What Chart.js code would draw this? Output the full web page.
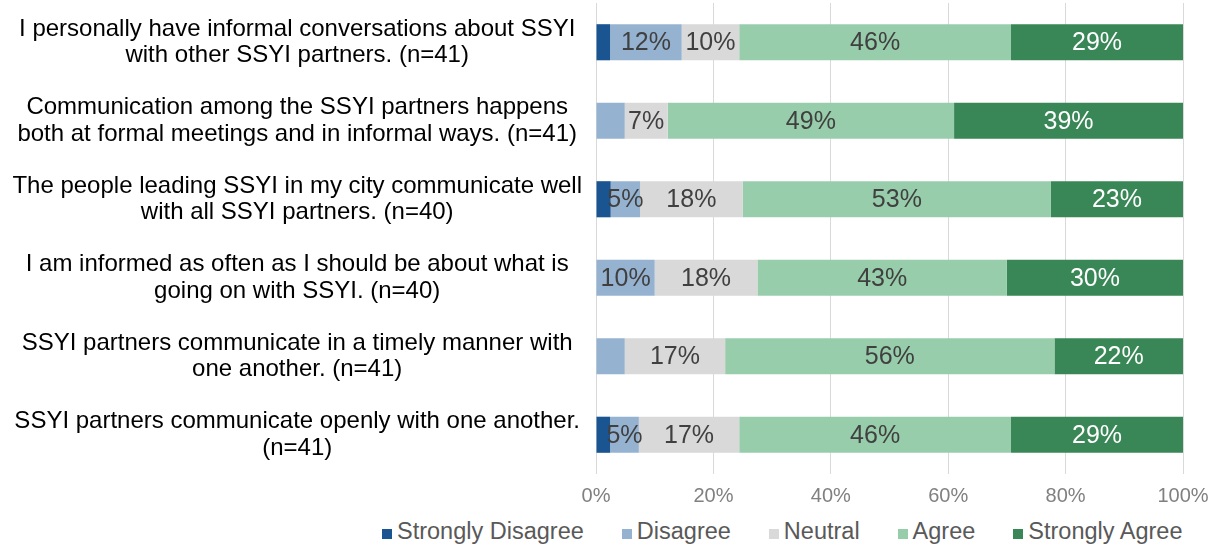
<!DOCTYPE html>
<html>
<head>
<meta charset="utf-8">
<title>SSYI communication</title>
<script src="https://cdn.jsdelivr.net/npm/chart.js@4.4.1/dist/chart.umd.min.js"></script>
<style>
    body { margin: 0; background: #fff; font-family: "Liberation Sans", Arial, sans-serif; }
    #wrap { width: 1219px; height: 518px; }
    #legend { display: flex; gap: 38px; margin-left: 382px; height: 26px; }
    #legend .item { font-size: 23.5px; line-height: 26px; color: #595959; white-space: nowrap; }
    #legend .box { display: inline-block; width: 10px; height: 10px; margin-right: 5px; vertical-align: baseline; }
</style>
</head>
<body>
<div id="wrap"><canvas id="likertChart"></canvas></div>
<div id="legend"></div>
<script>
// Statements (each one split in two lines, like the original)
const statements = [
    ['I personally have informal conversations about SSYI', 'with other SSYI partners. (n=41)'],
    ['Communication among the SSYI partners happens', 'both at formal meetings and in informal ways. (n=41)'],
    ['The people leading SSYI in my city communicate well', 'with all SSYI partners. (n=40)'],
    ['I am informed as often as I should be about what is', 'going on with SSYI. (n=40)'],
    ['SSYI partners communicate in a timely manner with', 'one another. (n=41)'],
    ['SSYI partners communicate openly with one another.', '(n=41)']
];

const seriesNames = ['Strongly Disagree', 'Disagree', 'Neutral', 'Agree', 'Strongly Agree'];

// percent of respondents per statement
const stronglyDisagree = [2.4, 0, 2.5, 0, 0, 2.4];
const disagree = [12.2, 4.9, 5.0, 10.0, 4.9, 4.9];
const neutral = [9.8, 7.3, 17.5, 17.5, 17.1, 17.1];
const agree = [46.3, 48.8, 52.5, 42.5, 56.1, 46.3];
const stronglyAgree = [29.3, 39.0, 22.5, 30.0, 21.9, 29.3];

const xTicks = [0, 20, 40, 60, 80, 100];

// labels that were removed in the original ("series-row")
const hiddenLabels = ['1-1', '1-4'];

document.addEventListener('DOMContentLoaded', () => {
    const colors = ['#1B5591', '#95B3D0', '#D9D9D9', '#98CDAC', '#398756'];
    const labelColors = ['#404040', '#404040', '#404040', '#404040', '#FFFFFF'];
    const values = [stronglyDisagree, disagree, neutral, agree, stronglyAgree];
    const fontFamily = '"Liberation Sans", Arial, sans-serif';

    // Draw the percentages inside the bars
    const barLabels = {
        id: 'barLabels',
        afterDatasetsDraw(chart) {
            const ctx = chart.ctx;
            ctx.save();
            ctx.font = '25px ' + fontFamily;
            ctx.textAlign = 'center';
            ctx.textBaseline = 'middle';
            chart.data.datasets.forEach((ds, i) => {
                const meta = chart.getDatasetMeta(i);
                meta.data.forEach((bar, j) => {
                    const v = ds.data[j];
                    if (v < 3 || hiddenLabels.includes(i + '-' + j)) return;
                    const c = bar.getCenterPoint();
                    ctx.fillStyle = labelColors[i];
                    ctx.fillText(Math.round(v) + '%', c.x, c.y + 1);
                });
            });
            ctx.restore();
        }
    };

    const ctx = document.getElementById('likertChart').getContext('2d');
    const chart = new Chart(ctx, {
        type: 'bar',
        data: {
            labels: statements,
            datasets: seriesNames.map((name, i) => ({
                label: name,
                data: values[i],
                backgroundColor: colors[i],
                borderWidth: 0,
                barPercentage: 0.46,
                categoryPercentage: 1
            }))
        },
        options: {
            indexAxis: 'y',
            responsive: true,
            maintainAspectRatio: false,
            animation: false,
            layout: {
                padding: { top: 3, right: 36, bottom: 0, left: 0 }
            },
            scales: {
                x: {
                    stacked: true,
                    min: 0,
                    max: 100,
                    afterBuildTicks: axis => { axis.ticks = xTicks.map(v => ({ value: v })); },
                    ticks: {
                        callback: v => v + '%',
                        color: '#808080',
                        font: { family: fontFamily, size: 20 },
                        padding: 10
                    },
                    grid: { color: '#D9D9D9', lineWidth: 1, drawTicks: false },
                    border: { display: false }
                },
                y: {
                    stacked: true,
                    // fixed axis width, and no extra room above/below for the two-line labels
                    afterFit: axis => {
                        axis.width = 596;
                        axis.paddingTop = 0;
                        axis.paddingBottom = 0;
                    },
                    ticks: {
                        color: '#000000',
                        crossAlign: 'center',
                        padding: 14,
                        font: { family: fontFamily, size: 24, lineHeight: 1.1 }
                    },
                    grid: { display: false, drawTicks: false },
                    border: { display: false }
                }
            },
            plugins: {
                legend: { display: false },
                tooltip: { enabled: false }
            }
        },
        plugins: [barLabels]
    });

    // HTML legend built from the datasets
    const legend = document.getElementById('legend');
    chart.data.datasets.forEach(ds => {
        const item = document.createElement('span');
        item.className = 'item';
        const box = document.createElement('span');
        box.className = 'box';
        box.style.background = ds.backgroundColor;
        item.appendChild(box);
        item.appendChild(document.createTextNode(ds.label));
        legend.appendChild(item);
    });
});
</script>
</body>
</html>
